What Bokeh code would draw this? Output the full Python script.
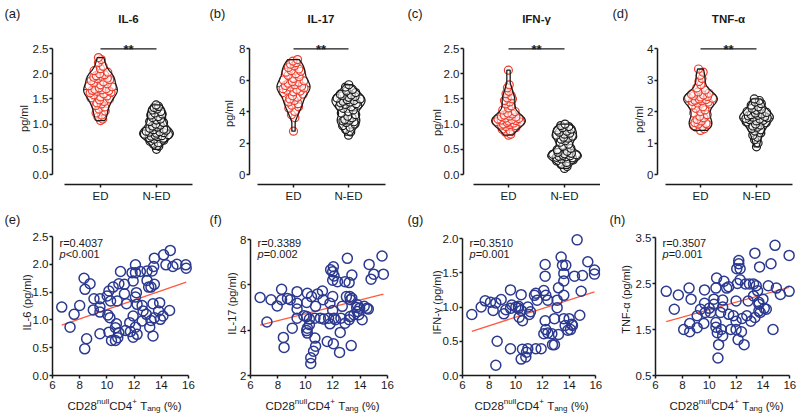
import numpy as np
from bokeh.plotting import figure
from bokeh.models import Range1d, FixedTicker, NumeralTickFormatter
from bokeh.layouts import row, column
from bokeh.embed import file_html
from bokeh.resources import INLINE
from bokeh.core.properties import value

# ---------------- data ----------------
groups = ["ED", "N-ED"]
cytokines = ["IL-6", "IL-17", "IFN-γ", "TNF-α"]
top_panel_labels = ["(a)", "(b)", "(c)", "(d)"]
bot_panel_labels = ["(e)", "(f)", "(g)", "(h)"]
y_titles = ["IL-6 (pg/ml)", "IL-17 (pg/ml)", "IFN-γ (pg/ml)", "TNF-α (pg/ml)"]
r_texts = ["r=0.4037", "r=0.3389", "r=0.3510", "r=0.3507"]
p_texts = ["<0.001", "=0.002", "=0.001", "=0.001"]

top_yticks = [[0, 0.5, 1.0, 1.5, 2.0, 2.5], [0, 2, 4, 6, 8],
              [0, 0.5, 1.0, 1.5, 2.0, 2.5], [0, 1, 2, 3, 4]]
bot_yticks = [[0, 0.5, 1.0, 1.5, 2.0, 2.5], [2, 4, 6, 8],
              [0, 0.5, 1.0, 1.5, 2.0], [0.5, 1.5, 2.5, 3.5]]
x_ticks = [6, 8, 10, 12, 14, 16]

il6_ed = [2.32, 2.28, 2.22, 2.15, 2.1, 2.06, 2.03, 2.0, 1.98, 1.96, 1.95, 1.93, 1.91, 1.9,
          1.88, 1.86, 1.84, 1.82, 1.8, 1.78, 1.76, 1.74, 1.72, 1.7, 1.69, 1.68, 1.67, 1.66,
          1.65, 1.63, 1.62, 1.6, 1.58, 1.56, 1.54, 1.52, 1.5, 1.48, 1.45, 1.42, 1.4, 1.37,
          1.34, 1.3, 1.26, 1.22, 1.18, 1.14, 1.1, 1.07]
il6_ned = [1.38, 1.35, 1.33, 1.3, 1.28, 1.25, 1.22, 1.2, 1.18, 1.15, 1.13, 1.1, 1.08, 1.05,
           1.03, 1.0, 0.98, 0.96, 0.94, 0.92, 0.9, 0.89, 0.88, 0.86, 0.85, 0.84, 0.83, 0.82,
           0.8, 0.79, 0.78, 0.77, 0.76, 0.75, 0.73, 0.72, 0.7, 0.68, 0.66, 0.63, 0.6, 0.56, 0.5]
il17_ed = [7.3, 7.2, 7.1, 7.0, 6.9, 6.8, 6.7, 6.6, 6.55, 6.5, 6.4, 6.3, 6.2, 6.1, 6.0, 5.95,
           5.9, 5.85, 5.8, 5.7, 5.65, 5.6, 5.55, 5.5, 5.45, 5.4, 5.35, 5.3, 5.25, 5.2, 5.1,
           5.0, 4.9, 4.8, 4.7, 4.6, 4.5, 4.4, 4.3, 4.2, 4.0, 3.8, 3.6, 2.75]
il17_ned = [5.7, 5.55, 5.4, 5.3, 5.2, 5.1, 5.05, 5.0, 4.95, 4.9, 4.85, 4.8, 4.75, 4.7, 4.65,
            4.6, 4.55, 4.5, 4.45, 4.4, 4.35, 4.3, 4.2, 4.1, 4.0, 3.9, 3.8, 3.7, 3.6, 3.5,
            3.45, 3.4, 3.35, 3.3, 3.2, 3.1, 3.0, 2.85, 2.7, 2.5]
ifn_ed = [2.07, 1.78, 1.72, 1.65, 1.6, 1.56, 1.52, 1.5, 1.47, 1.44, 1.4, 1.36, 1.32, 1.28,
          1.25, 1.22, 1.2, 1.18, 1.16, 1.15, 1.14, 1.12, 1.11, 1.1, 1.09, 1.08, 1.07, 1.06,
          1.05, 1.04, 1.03, 1.02, 1.0, 0.99, 0.98, 0.97, 0.95, 0.93, 0.9, 0.87, 0.84, 0.8, 0.78]
ifn_ned = [1.0, 0.97, 0.95, 0.93, 0.9, 0.88, 0.86, 0.84, 0.82, 0.8, 0.78, 0.76, 0.74, 0.72,
           0.7, 0.67, 0.64, 0.6, 0.56, 0.52, 0.49, 0.46, 0.44, 0.42, 0.41, 0.4, 0.39, 0.38,
           0.37, 0.36, 0.35, 0.34, 0.33, 0.31, 0.29, 0.27, 0.24, 0.2, 0.16, 0.12]
tnf_ed = [3.35, 3.25, 3.15, 3.05, 2.95, 2.85, 2.75, 2.68, 2.62, 2.58, 2.55, 2.52, 2.5, 2.48,
          2.46, 2.44, 2.42, 2.4, 2.38, 2.36, 2.34, 2.32, 2.3, 2.27, 2.24, 2.2, 2.15, 2.1, 2.05,
          2.0, 1.95, 1.9, 1.85, 1.8, 1.75, 1.7, 1.65, 1.62, 1.6, 1.58, 1.55, 1.52, 1.5, 1.45, 1.4]
tnf_ned = [2.4, 2.35, 2.3, 2.25, 2.2, 2.15, 2.1, 2.07, 2.04, 2.0, 1.97, 1.95, 1.92, 1.9, 1.88,
           1.86, 1.84, 1.82, 1.8, 1.78, 1.76, 1.74, 1.72, 1.7, 1.67, 1.64, 1.6, 1.57, 1.54,
           1.5, 1.46, 1.42, 1.38, 1.32, 1.25, 1.18, 1.1, 1.0, 0.88]

il6_pts = [(6.68, 1.23), (7.29, 0.87), (7.59, 1.10), (8.0, 1.26), (8.32, 1.75), (8.39, 1.55),
           (8.76, 1.65), (8.51, 0.66), (8.37, 0.48), (9.05, 1.38), (9.0, 1.18), (9.49, 1.38),
           (9.49, 1.23), (9.49, 1.14), (9.49, 0.75), (10.02, 1.43), (10.15, 1.52), (10.46, 1.59),
           (10.07, 1.09), (10.22, 1.04), (10.27, 1.34), (10.15, 0.78), (10.34, 0.63), (10.63, 0.63),
           (10.8, 0.68), (10.7, 0.93), (10.63, 0.86), (10.76, 1.34), (10.88, 1.65), (11.0, 1.87),
           (11.29, 1.64), (11.29, 1.47), (11.44, 1.29), (10.88, 0.77), (11.37, 0.81), (11.73, 0.79),
           (11.68, 0.95), (11.93, 1.07), (11.93, 1.70), (11.85, 1.85), (12.1, 1.99), (12.1, 1.85),
           (12.17, 1.49), (12.1, 1.41), (12.22, 1.28), (12.1, 0.87), (12.22, 0.74), (11.93, 0.69),
           (12.46, 1.87), (12.59, 0.98), (12.59, 1.26), (12.66, 1.16), (12.9, 1.10), (12.95, 1.88),
           (12.95, 1.71), (13.07, 1.59), (13.24, 1.59), (13.32, 1.88), (13.44, 1.96), (13.49, 2.11),
           (13.49, 1.64), (13.15, 0.87), (13.24, 0.99), (13.39, 1.29), (13.39, 0.71), (13.49, 1.04),
           (13.88, 1.31), (13.8, 1.16), (13.93, 1.01), (14.12, 1.07), (14.17, 2.17), (14.34, 1.99),
           (14.66, 2.25), (14.61, 1.17), (14.85, 1.96), (15.15, 2.0), (15.8, 1.99), (15.83, 1.93)]
il17_pts = [(6.7, 5.44), (7.2, 4.36), (7.5, 5.34), (7.95, 5.07), (8.27, 5.8), (8.27, 5.34),
            (8.4, 3.68), (8.45, 3.24), (8.7, 5.4), (8.9, 5.34), (9.05, 4.09), (9.4, 5.7),
            (9.4, 5.19), (9.4, 4.93), (9.4, 4.53), (9.9, 4.64), (10.1, 4.6), (10.15, 5.63),
            (10.1, 5.22), (10.15, 4.09), (10.1, 3.98), (10.15, 3.87), (10.3, 4.24), (10.3, 4.49),
            (10.45, 5.48), (10.6, 3.07), (10.4, 2.78), (10.4, 2.53), (10.7, 3.65), (10.75, 3.29),
            (10.75, 5.05), (10.7, 4.53), (10.9, 5.6), (11.1, 4.53), (11.25, 5.73), (11.3, 5.34),
            (11.35, 4.49), (11.6, 3.5), (11.7, 4.53), (11.8, 4.28), (11.8, 5.19), (11.85, 6.66),
            (12.05, 6.8), (12.0, 6.58), (12.0, 6.2), (12.1, 6.39), (12.0, 5.48), (12.0, 4.87),
            (12.1, 4.53), (12.2, 4.46), (12.05, 3.4), (12.35, 6.14), (12.6, 4.53), (12.5, 3.02),
            (12.55, 3.9), (12.7, 5.05), (12.9, 6.14), (13.0, 5.48), (12.9, 4.31), (13.07, 7.17),
            (13.2, 6.1), (13.25, 5.48), (13.27, 4.6), (13.2, 4.46), (13.3, 5.34), (13.35, 3.32),
            (13.4, 6.43), (13.4, 5.41), (13.55, 4.68), (13.75, 5.0), (13.8, 4.82), (13.8, 5.12),
            (13.9, 4.68), (13.97, 4.97), (14.15, 4.46), (14.3, 5.05), (14.5, 4.97), (14.6, 4.93),
            (14.66, 6.9), (14.8, 6.25), (15.0, 6.47), (15.6, 7.27), (15.7, 6.47)]
ifn_pts = [(6.7, 0.89), (7.4, 1.0), (7.7, 1.09), (8.1, 1.07), (8.3, 0.95), (8.5, 1.06),
           (8.6, 0.5), (8.5, 0.15), (8.9, 1.11), (9.1, 0.9), (9.25, 0.96), (9.6, 0.98),
           (9.6, 1.25), (9.6, 0.39), (9.7, 1.03), (10.0, 1.0), (10.2, 0.98), (10.2, 1.01),
           (10.25, 0.85), (10.4, 0.95), (10.4, 1.18), (10.5, 0.8), (10.5, 0.385), (10.4, 0.24),
           (10.75, 0.27), (10.8, 0.34), (10.9, 0.39), (10.9, 1.0), (11.0, 0.89), (11.1, 0.93),
           (11.4, 1.17), (11.5, 1.2), (11.5, 0.39), (11.9, 0.39), (11.6, 1.1), (12.1, 1.24),
           (12.2, 1.62), (12.2, 1.45), (12.25, 1.17), (12.2, 0.8), (12.25, 0.67), (12.1, 0.61),
           (12.4, 0.62), (12.4, 1.1), (12.7, 0.61), (12.75, 0.45), (12.9, 0.45), (12.9, 0.83),
           (13.1, 1.1), (13.1, 0.99), (13.2, 1.28), (13.2, 0.6), (13.4, 1.73), (13.5, 1.61),
           (13.6, 1.49), (13.6, 1.38), (13.6, 1.17), (13.6, 0.83), (13.75, 1.61), (13.7, 0.73),
           (13.9, 0.66), (14.0, 0.83), (14.2, 0.75), (14.25, 0.73), (14.1, 0.67), (14.4, 1.45),
           (14.6, 1.98), (14.8, 0.88), (15.0, 1.46), (14.9, 1.23), (15.4, 1.66), (15.9, 1.54),
           (15.9, 1.48)]
tnf_pts = [(6.8, 2.33), (7.4, 1.94), (7.7, 2.25), (8.1, 1.5), (8.5, 2.4), (8.55, 1.63),
           (8.55, 1.45), (8.65, 2.16), (9.1, 1.54), (9.1, 1.8), (9.35, 1.94), (9.65, 2.36),
           (9.65, 2.07), (9.7, 1.87), (9.6, 1.63), (10.0, 1.96), (10.1, 1.87), (10.35, 2.16),
           (10.5, 2.4), (10.55, 2.62), (10.35, 2.05), (10.5, 1.65), (10.5, 1.55), (10.6, 1.43),
           (10.7, 1.17), (10.65, 0.88), (10.9, 1.5), (11.0, 1.36), (11.0, 2.14), (10.85, 1.87),
           (11.0, 1.99), (11.1, 2.55), (11.3, 2.4), (11.45, 2.43), (11.45, 1.83), (11.6, 1.5),
           (11.8, 1.8), (12.0, 2.12), (12.0, 1.68), (12.0, 1.5), (12.05, 2.82), (12.2, 2.93),
           (12.2, 3.0), (12.3, 2.82), (12.1, 2.5), (12.3, 2.58), (12.15, 1.28), (12.4, 1.45),
           (12.45, 1.74), (12.6, 1.17), (12.7, 2.49), (12.8, 1.8), (12.9, 2.12), (13.0, 2.49),
           (13.1, 1.68), (13.4, 3.16), (13.3, 2.49), (13.3, 2.23), (13.4, 1.76), (13.5, 2.45),
           (13.6, 2.34), (13.7, 2.09), (13.7, 2.05), (13.75, 2.86), (13.7, 1.9), (13.8, 1.87),
           (14.0, 2.16), (14.1, 1.96), (14.25, 1.94), (14.4, 2.45), (14.6, 2.93), (14.9, 3.33),
           (14.75, 1.5), (15.0, 2.4), (15.3, 2.26), (15.95, 3.11), (15.95, 2.33)]

violin_data = [(il6_ed, il6_ned), (il17_ed, il17_ned), (ifn_ed, ifn_ned), (tnf_ed, tnf_ned)]
scatter_data = [il6_pts, il17_pts, ifn_pts, tnf_pts]

# ---------------- style ----------------
FONT = "Liberation Sans"
INK = "#1a1a1a"
RED = "#ee3b2b"
BLUE = "#2b3990"
FIT = "#ff5a3c"
PATTERN = [0.0, 0.55, -0.55, 0.25, -0.8, 0.8, -0.25, 0.62, -0.62, 0.1, -0.42, 0.42, -0.1, 0.9, -0.9]
AW = {'C': .722, 'D': .722, '2': .556, '8': .556, '4': .556, 'n': .556, 'u': .556, 'l': .222,
      '+': .584, 'T': .611, 'a': .556, 'g': .556, '(': .333, '%': .889, ')': .333, ' ': .278}


def tw(s, size):
    return sum(AW.get(c, .556) for c in s) * size


class Map:
    """page-pixel -> data mapping for a figure whose frame fills the whole canvas"""
    def __init__(self, L, T, x0, ux, y1, uy):
        self.L, self.T, self.x0, self.ux, self.y1, self.uy = L, T, x0, ux, y1, uy

    def fx(self, P):
        return self.x0 + (P - self.L) / self.ux

    def fy(self, P):
        return self.y1 - (P - self.T) / self.uy


def make_fig(width, height, m):
    xr = Range1d(m.x0, m.x0 + width / m.ux)
    yr = Range1d(m.y1 - height / m.uy, m.y1)
    p = figure(width=width, height=height, x_range=xr, y_range=yr, output_backend="svg",
               toolbar_location=None, min_border_left=0, min_border_right=0,
               min_border_top=0, min_border_bottom=0)
    p.outline_line_color = None
    p.xgrid.visible = False
    p.ygrid.visible = False
    p.background_fill_color = "white"
    p.border_fill_color = "white"
    for ax in (p.xaxis[0], p.yaxis[0]):
        ax.axis_line_width = 1.5
        ax.axis_line_color = INK
        ax.major_tick_line_width = 1.5
        ax.major_tick_line_color = INK
        ax.major_tick_in = 0
        ax.major_tick_out = 3
        ax.minor_tick_line_color = None
        ax.major_label_text_font = FONT
        ax.major_label_text_font_size = "11.5px"
        ax.major_label_text_color = INK
    p.yaxis[0].major_label_standoff = 1
    p.xaxis[0].major_label_standoff = 2
    return p


def put(p, m, px, py, txt, size, style="normal", align="left", baseline="middle", angle=0.0, xoff=0):
    p.text(x=[m.fx(px)], y=[m.fy(py)], text=[txt], angle=angle, x_offset=xoff,
           text_font=value(FONT), text_font_size=f"{size}px", text_font_style=style,
           text_align=align, text_baseline=baseline, text_color=INK)


def violin(p, c, vals, color, W=0.3):
    v = np.sort(np.asarray(vals, float))
    grid = np.linspace(v.min(), v.max(), 120)
    sd = v.std(ddof=1)
    iqr = np.percentile(v, 75) - np.percentile(v, 25)
    h = 0.9 * min(sd, iqr / 1.34) * len(v) ** -0.2 * 0.75
    dens = np.exp(-0.5 * ((grid[:, None] - v[None, :]) / h) ** 2).sum(1)
    hw = np.maximum(W * dens / dens.max(), 0.03)
    for q, dash in ((25, "1 2"), (50, "4 2"), (75, "1 2")):
        yq = np.percentile(v, q)
        wq = np.interp(yq, grid, hw)
        p.line([c - wq, c + wq], [yq, yq], line_color=INK, line_width=1, line_dash=dash, line_alpha=0.8)
    wp = np.interp(v, grid, hw)
    offs = np.array([PATTERN[i % len(PATTERN)] for i in range(len(v))]) * wp * 0.8
    p.scatter(c + offs, v, size=8, marker="circle", line_color=color, fill_color="white",
              fill_alpha=0.55, line_width=1.2)
    xs = np.concatenate([c + hw, (c - hw)[::-1]])
    ys = np.concatenate([grid, grid[::-1]])
    p.patch(xs, ys, fill_color=None, line_color=INK, line_width=1.3)


# ---------------- top row: violins ----------------
top_spec = [
    dict(L=0, W=200, axis=52, ed=100, ned=156, xl=64, xr=192, lab=4, ylx=23, yly=118),
    dict(L=200, W=200, axis=249, ed=293, ned=348, xl=257, xr=385, lab=209, ylx=228, yly=113),
    dict(L=400, W=200, axis=463, ed=508, ned=564, xl=473, xr=600, lab=407, ylx=436, yly=122),
    dict(L=600, W=200, axis=657, ed=700, ned=756, xl=665, xr=792, lab=612, ylx=638, yly=119),
]
TOP_H, T_HI, T_LO, T_AX = 208, 48, 174, 184
top_figs = []
for i, s in enumerate(top_spec):
    ux = s["ned"] - s["ed"]
    ymax = top_yticks[i][-1]
    uy = (T_LO - T_HI) / ymax
    m = Map(s["L"], 0, 1 - (s["ed"] - s["L"]) / ux, ux, ymax + T_HI / uy, uy)
    p = make_fig(s["W"], TOP_H, m)
    p.xaxis.fixed_location = m.fy(T_AX)
    p.xaxis.ticker = FixedTicker(ticks=[1, 2])
    p.xaxis.major_label_overrides = {1: groups[0], 2: groups[1]}
    p.xaxis.bounds = (m.fx(s["xl"]), m.fx(s["xr"]))
    p.yaxis.fixed_location = m.fx(s["axis"])
    p.yaxis.ticker = FixedTicker(ticks=top_yticks[i])
    p.yaxis.formatter = NumeralTickFormatter(format="0.0" if ymax == 2.5 else "0")
    p.yaxis.bounds = (0, ymax)

    ed, ned = violin_data[i]
    violin(p, 1, ed, RED)
    violin(p, 2, ned, INK)
    p.line([1, 2], [m.fy(48.3), m.fy(48.3)], line_color=INK, line_width=1.3)
    put(p, m, m.L + (1.5 - m.x0) * ux, 48.5, "**", 13, "bold", "center", "alphabetic")
    put(p, m, m.L + (1.5 - m.x0) * ux, 18.5, cytokines[i], 11.5, "bold", "center")
    put(p, m, s["lab"], 13, top_panel_labels[i], 13)
    put(p, m, s["ylx"], s["yly"], "pg/ml", 11, "normal", "center", "middle", np.pi / 2)
    top_figs.append(p)

# ---------------- bottom row: scatter ----------------
bot_spec = [
    dict(L=0, W=200, axis=52, ppx=13.6, T=236, lab=4, ylx=26, yly=302, xtc=124),
    dict(L=200, W=200, axis=250, ppx=13.7, T=239, lab=209, ylx=231, yly=303, xtc=322),
    dict(L=400, W=204, axis=462, ppx=13.33, T=238, lab=407, ylx=436, yly=302, xtc=531),
    dict(L=604, W=196, axis=655, ppx=13.43, T=237, lab=609, ylx=625, yly=299, xtc=726),
]
BOT_TOP, BOT_H, B_AX = 208, 206, 375
title_pieces = [("CD28", 11.5, 0, 0), ("null", 8, -4.5, 0), ("CD4", 11.5, 0, 0), ("+", 8, -4.5, 0),
                ("T", 11.5, 0, 1), ("ang", 8, 2.5, 0), ("(%)", 11.5, 0, 1)]
bot_figs = []
for i, s in enumerate(bot_spec):
    ymin, ymax = bot_yticks[i][0], bot_yticks[i][-1]
    uy = (B_AX - s["T"]) / (ymax - ymin)
    m = Map(s["L"], BOT_TOP, 6 - (s["axis"] - s["L"]) / s["ppx"], s["ppx"],
            ymax + (s["T"] - BOT_TOP) / uy, uy)
    p = make_fig(s["W"], BOT_H, m)
    p.xaxis.fixed_location = ymin
    p.xaxis.ticker = FixedTicker(ticks=x_ticks)
    p.xaxis.formatter = NumeralTickFormatter(format="0")
    p.xaxis.bounds = (6, 16)
    p.yaxis.fixed_location = 6
    p.yaxis.ticker = FixedTicker(ticks=bot_yticks[i])
    p.yaxis.formatter = NumeralTickFormatter(format="0" if i == 1 else "0.0")
    p.yaxis.bounds = (ymin, ymax)

    xs = np.array([a for a, b in scatter_data[i]])
    ys = np.array([b for a, b in scatter_data[i]])
    k, b0 = np.polyfit(xs, ys, 1)
    xx = np.array([xs.min(), xs.max()])
    p.line(xx, k * xx + b0, line_color=FIT, line_width=1.3)
    p.scatter(xs, ys, size=10, marker="circle", line_color=BLUE, fill_color=None, line_width=1.5)

    tx = s["axis"] + 7
    put(p, m, tx, 242, r_texts[i], 11)
    put(p, m, tx, 253.5, "p", 11, "italic")
    put(p, m, tx, 253.5, p_texts[i], 11, xoff=6.2)
    put(p, m, s["lab"], 219, bot_panel_labels[i], 13)
    put(p, m, s["ylx"], s["yly"], y_titles[i], 11, "normal", "center", "middle", np.pi / 2)

    total = sum(tw(t, fs) + sp * tw(" ", fs) for t, fs, dy, sp in title_pieces)
    cx = s["xtc"] - total / 2
    for t, fs, dy, sp in title_pieces:
        cx += sp * tw(" ", fs)
        put(p, m, cx, 405.5 + dy, t, fs, "normal", "left", "alphabetic")
        cx += tw(t, fs)
    bot_figs.append(p)

layout = column(row(*top_figs), row(*bot_figs))
open("out.html", "w").write(file_html(layout, INLINE))
